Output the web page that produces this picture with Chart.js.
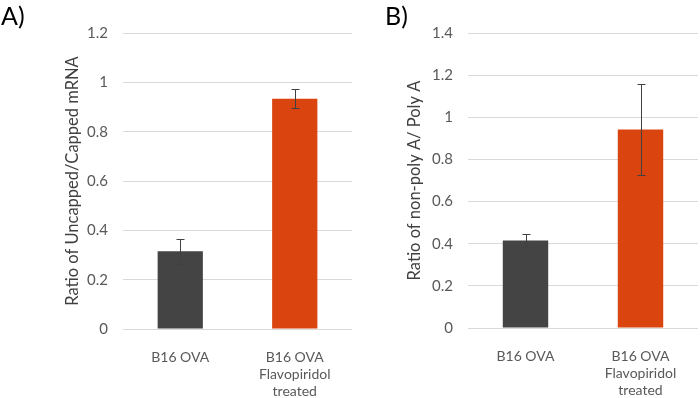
<!DOCTYPE html>
<html>
<head>
<meta charset="utf-8">
<script src="https://cdn.jsdelivr.net/npm/chart.js@4"></script>
<style>
  html, body { margin: 0; padding: 0; background: #fff; }
  #wrap { position: relative; width: 700px; height: 398px; overflow: hidden; }
  .panel { position: absolute; top: 0; height: 398px; }
  .tag { position: absolute; top: 0; font-family: Lato, sans-serif; font-size: 25px; color: #000; }
</style>
</head>
<body>
<div id="wrap">
  <div class="panel" style="left:0;width:360px"><canvas id="chartA"></canvas></div>
  <div class="panel" style="left:350px;width:350px"><canvas id="chartB"></canvas></div>
  <div class="tag" style="left:1px">A)</div>
  <div class="tag" style="left:385px">B)</div>
</div>
<script>
// categories
const groups = [['B16 OVA'], ['B16 OVA', 'Flavopiridol', 'treated']];
const barColors = ['#444444', '#d9440f'];

// panel A: uncapped / capped mRNA
const ratioCapped = [0.315, 0.933];
const errCapped = [0.05, 0.038];

// panel B: non-poly A / poly A
const ratioPolyA = [0.415, 0.942];
const errPolyA = [0.031, 0.215];

const tickColor = '#595959';
const gridColor = '#d9d9d9';

// draws the +/- error whiskers on top of each bar
const errorBars = {
  id: 'errorBars',
  afterDatasetsDraw(chart) {
    const errs = chart.options.plugins.errorBars.errors;
    const meta = chart.getDatasetMeta(0);
    const y = chart.scales.y;
    const ctx = chart.ctx;
    ctx.save();
    ctx.strokeStyle = '#404040';
    ctx.lineWidth = 1;
    meta.data.forEach((bar, i) => {
      const v = chart.data.datasets[0].data[i];
      const x = Math.round(bar.x) + 0.5;
      const top = Math.round(y.getPixelForValue(v + errs[i])) + 0.5;
      const bot = Math.round(y.getPixelForValue(v - errs[i])) + 0.5;
      ctx.beginPath();
      ctx.moveTo(x, top); ctx.lineTo(x, bot);
      ctx.moveTo(x - 4, top); ctx.lineTo(x + 4, top);
      ctx.moveTo(x - 4, bot); ctx.lineTo(x + 4, bot);
      ctx.stroke();
    });
    ctx.restore();
  }
};

function makeChart(id, values, errs, yMax, title, opts) {
  return new Chart(document.getElementById(id), {
    type: 'bar',
    data: {
      labels: groups,
      datasets: [{
        data: values,
        backgroundColor: barColors,
        borderWidth: 0,
        categoryPercentage: 1,
        barPercentage: 0.395
      }]
    },
    options: {
      responsive: true,
      maintainAspectRatio: false,
      animation: false,
      layout: { padding: { top: 33, right: opts.padRight, left: 0, bottom: 0 } },
      plugins: {
        legend: { display: false },
        tooltip: { enabled: false },
        errorBars: { errors: errs }
      },
      scales: {
        x: {
          grid: { display: false },
          border: { display: false },
          ticks: {
            color: tickColor,
            font: { family: 'Lato', size: 14 },
            padding: 12,
            maxRotation: 0
          },
          afterFit(scale) { scale.height = opts.xHeight; }
        },
        y: {
          min: 0,
          max: yMax,
          grid: { color: gridColor, drawTicks: false },
          border: { display: false },
          ticks: {
            stepSize: 0.2,
            color: tickColor,
            font: { family: 'Lato', size: 15 },
            padding: 15,
            callback: v => String(Number(v.toFixed(1)))
          },
          title: {
            display: true,
            text: title,
            color: '#404040',
            font: { family: 'Lato', size: 16.5 },
            padding: { top: opts.titlePad, bottom: 0 }
          },
          afterFit(scale) { scale.width = opts.yWidth; }
        }
      }
    },
    plugins: [errorBars]
  });
}

makeChart('chartA', ratioCapped, errCapped, 1.2, 'Ratio of Uncapped/Capped mRNA',
  { padRight: 8, xHeight: 69, yWidth: 123, titlePad: 63 });
makeChart('chartB', ratioPolyA, errPolyA, 1.4, 'Ratio of non-poly A/ Poly A',
  { padRight: 2, xHeight: 70, yWidth: 118, titlePad: 55 });
</script>
</body>
</html>
